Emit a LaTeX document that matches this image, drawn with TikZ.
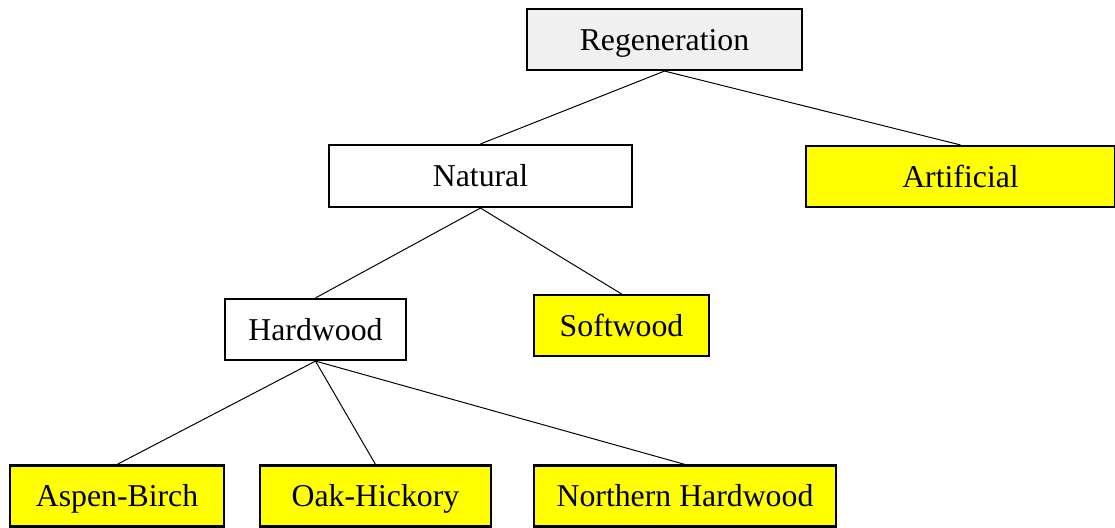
\documentclass[tikz,border=0pt]{standalone}
\usepackage{fontspec}
\setmainfont{Liberation Serif}
\usetikzlibrary{positioning}

\definecolor{boxgray}{HTML}{F0F0F0}
\definecolor{boxyellow}{HTML}{FFFF00}

\tikzset{
    box/.style={draw, line width=1.5pt, inner sep=0pt, minimum height=1.525cm,
        text height=19.5pt, text depth=4.5pt,
        font=\fontsize{22.6}{27}\selectfont},
    leaf/.style={box, fill=boxyellow},
    link/.style={line width=0.7pt}
}

\begin{document}
\begin{tikzpicture}[x=0.025cm, y=-0.025cm]

    \useasboundingbox (0,0) rectangle (1115,527);

    \node[box, fill=boxgray, minimum width=6.875cm] (regen) at (664.5,39.5) {Regeneration};

    \node[box, fill=white, minimum width=7.575cm, minimum height=1.55cm] (natural) at (480.5,176) {Natural};
    \node[leaf, minimum width=7.725cm] (artificial) at (960.5,176.5) {Artificial};

    \node[box, fill=white, minimum width=4.525cm] (hardwood) at (315.5,329.5) {Hardwood};
    \node[leaf, minimum width=4.375cm] (softwood) at (621.5,325.5) {Softwood};

    \node[leaf, minimum width=5.35cm] (aspen) at (117,496) {Aspen-Birch};
    \node[leaf, minimum width=5.775cm] (oak) at (375.5,496) {Oak-Hickory};
    \node[leaf, minimum width=7.55cm] (northern) at (685,496) {Northern Hardwood};

    \draw[link] (regen.south) -- (natural.north);
    \draw[link] (regen.south) -- (artificial.north);
    \draw[link] (natural.south) -- (hardwood.north);
    \draw[link] (natural.south) -- (softwood.north);
    \draw[link] (hardwood.south) -- (aspen.north);
    \draw[link] (hardwood.south) -- (oak.north);
    \draw[link] (hardwood.south) -- (northern.north);

\end{tikzpicture}
\end{document}
